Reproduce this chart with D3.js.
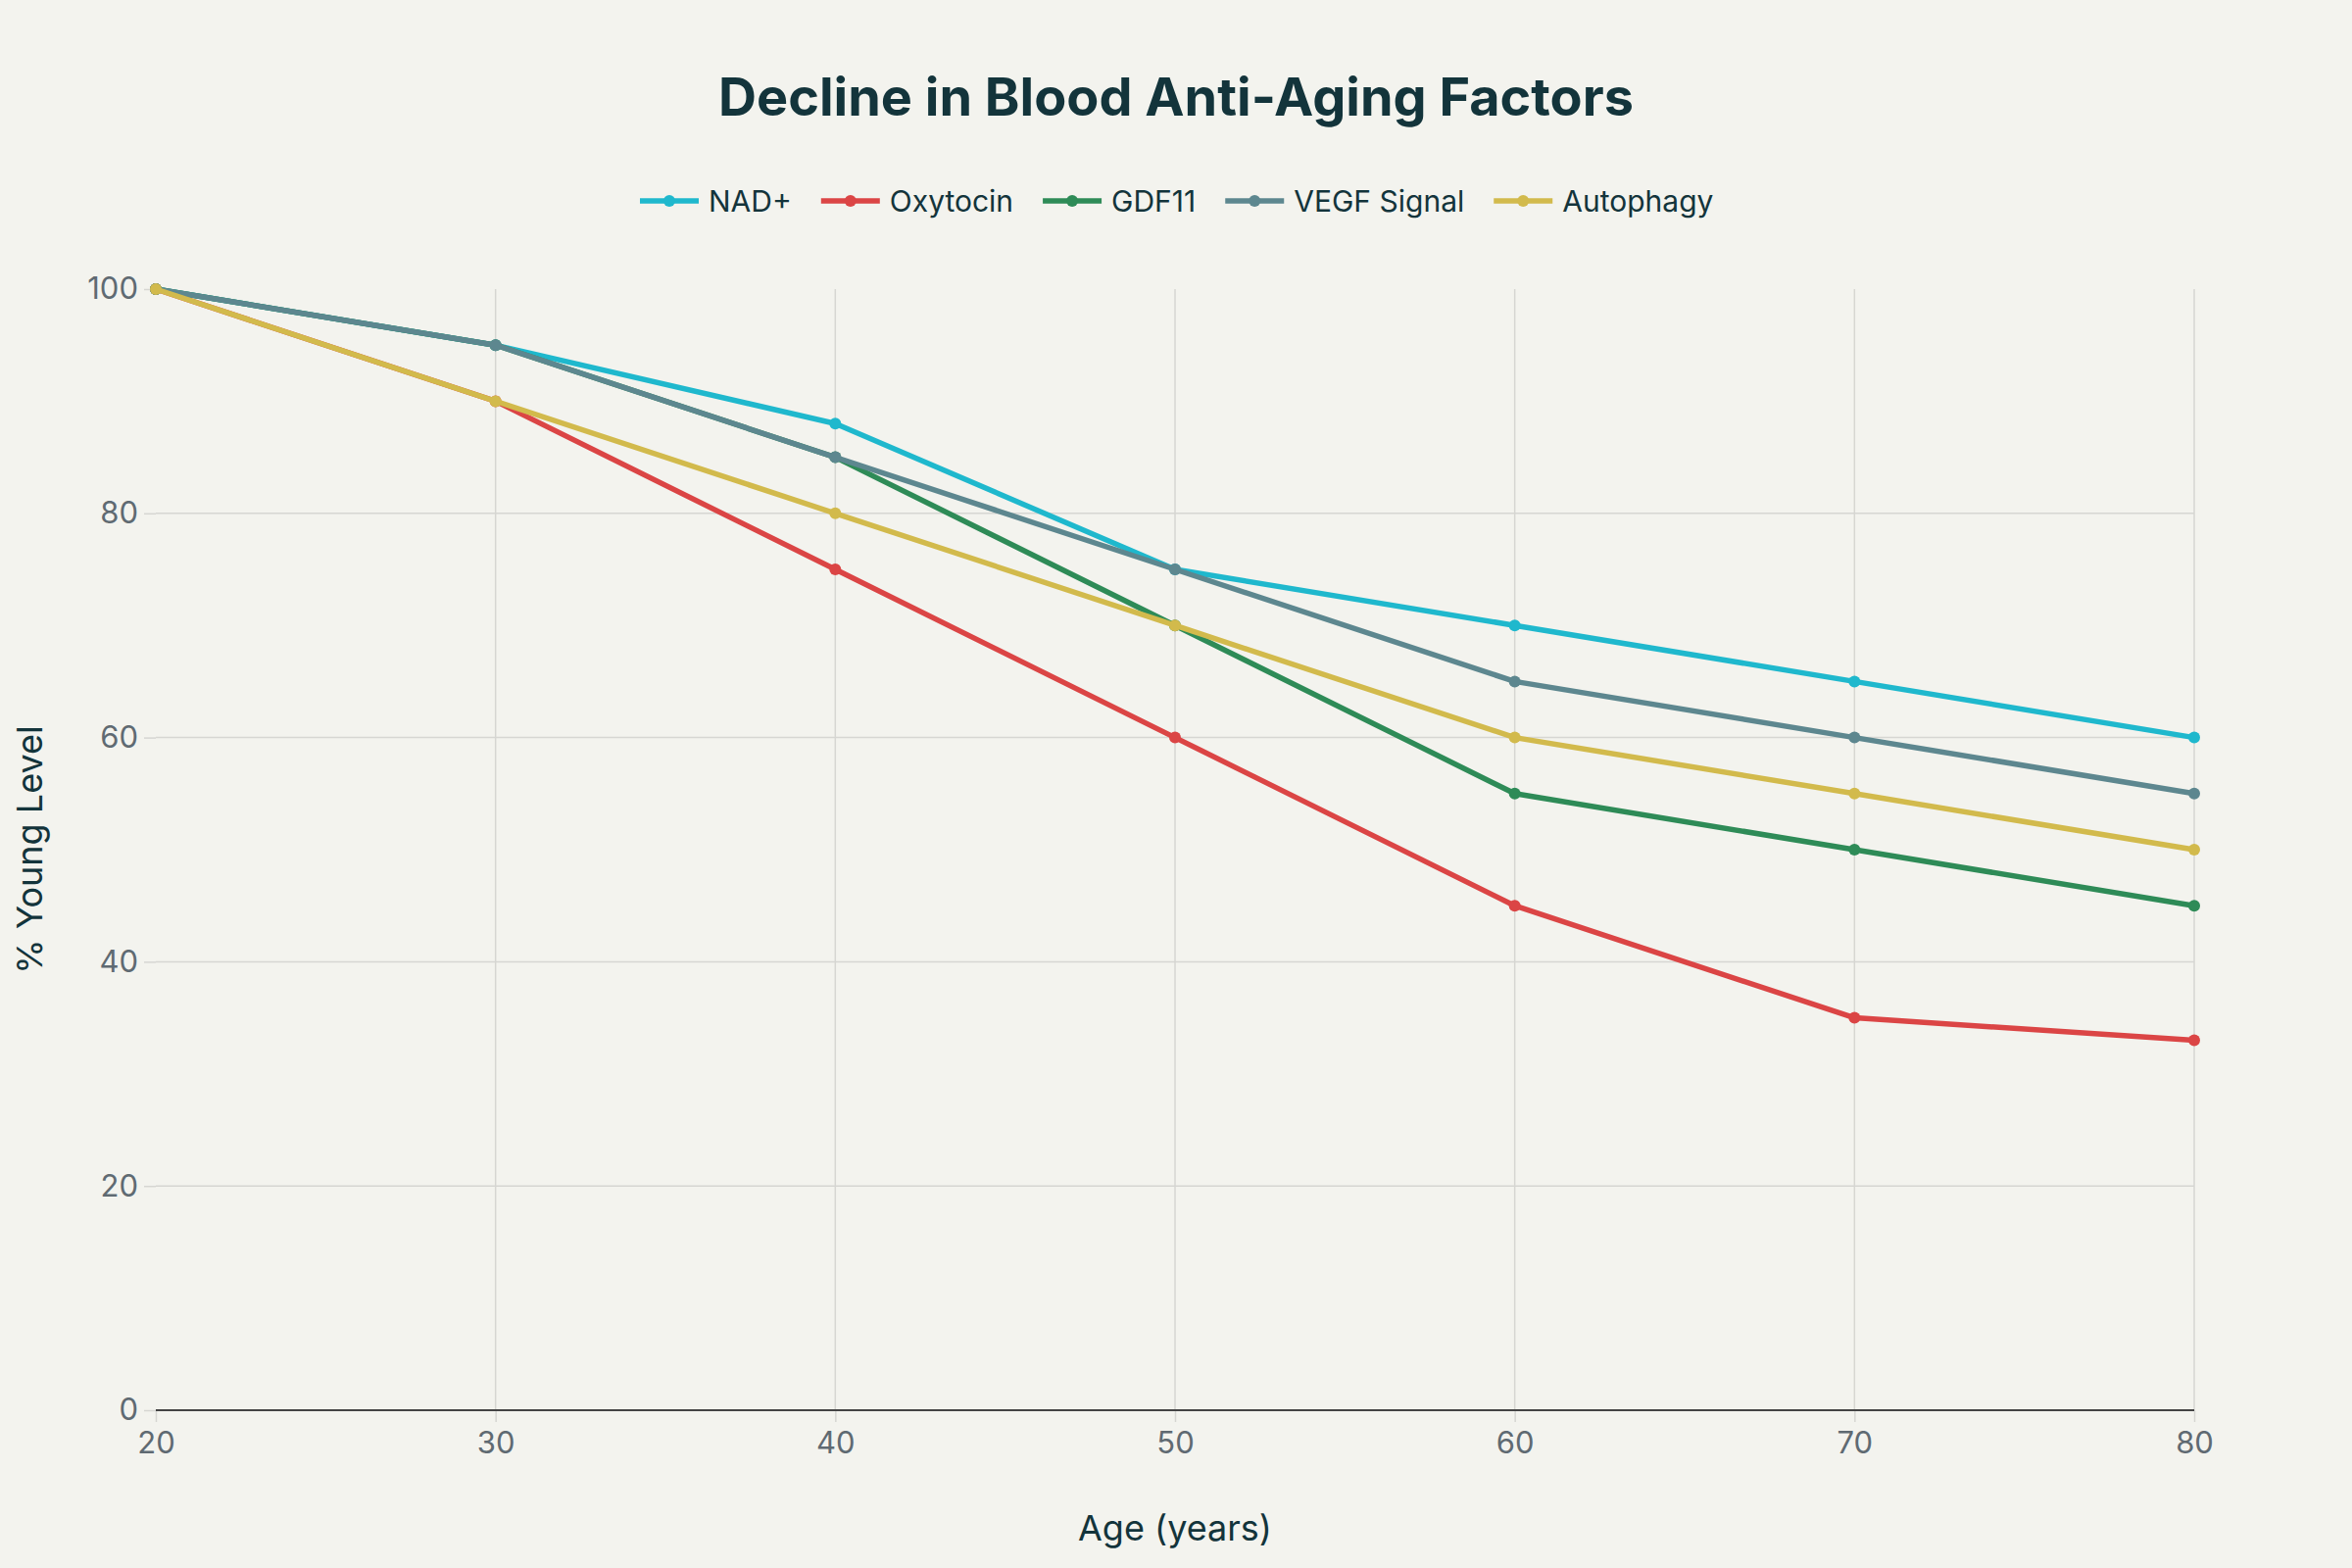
<!DOCTYPE html>
<html>
<head>
<meta charset="utf-8">
<script src="https://cdn.jsdelivr.net/npm/d3@7"></script>
<style>
  body { margin: 0; background: #F3F3EE; }
  svg { display: block; }
</style>
</head>
<body>
<div id="chart"></div>
<script>
// Data
var ages = [20, 30, 40, 50, 60, 70, 80];
var seriesNames = ["NAD+", "Oxytocin", "GDF11", "VEGF Signal", "Autophagy"];
var nad = [100, 95, 88, 75, 70, 65, 60];
var oxytocin = [100, 90, 75, 60, 45, 35, 33];
var gdf11 = [100, 95, 85, 70, 55, 50, 45];
var vegf = [100, 95, 85, 75, 65, 60, 55];
var autophagy = [100, 90, 80, 70, 60, 55, 50];
var xTicks = [20, 30, 40, 50, 60, 70, 80];
var yTicks = [0, 20, 40, 60, 80, 100];

var colors = ["#1FB8CD", "#DB4545", "#2E8B57", "#5D878F", "#D2BA4C"];
var allValues = [nad, oxytocin, gdf11, vegf, autophagy];

var W = 2400, H = 1600;
var margin = { top: 295, right: 161, bottom: 161, left: 159 };
var width = W - margin.left - margin.right,
    height = H - margin.top - margin.bottom;
var font = "Inter, 'Liberation Sans', Arial, sans-serif";
var textColor = "#13343B";

var svg = d3.select("#chart").append("svg")
    .attr("width", W)
    .attr("height", H)
    .style("background", "#F3F3EE");

var g = svg.append("g")
    .attr("transform", "translate(" + margin.left + "," + margin.top + ")");

var x = d3.scaleLinear().domain([20, 80]).range([0, width]);
var y = d3.scaleLinear().domain([0, 100]).range([height, 0]);

// grid
g.append("g").selectAll("line.vg")
    .data(xTicks.slice(1))
    .enter().append("line")
    .attr("x1", function(d) { return x(d); })
    .attr("x2", function(d) { return x(d); })
    .attr("y1", 0).attr("y2", height)
    .attr("stroke", "#D6D6D2").attr("stroke-width", 1.5);

g.append("g").selectAll("line.hg")
    .data(yTicks.filter(function(d) { return d > 0 && d < 100; }))
    .enter().append("line")
    .attr("x1", 0).attr("x2", width)
    .attr("y1", function(d) { return y(d); })
    .attr("y2", function(d) { return y(d); })
    .attr("stroke", "#D6D6D2").attr("stroke-width", 1.5);

// axes
var xAxis = d3.axisBottom(x).tickValues(xTicks).tickSize(12).tickPadding(10);
var yAxis = d3.axisLeft(y).tickValues(yTicks).tickSize(12).tickPadding(6);

var gx = g.append("g")
    .attr("transform", "translate(0," + height + ")")
    .call(xAxis);
var gy = g.append("g").call(yAxis);

[gx, gy].forEach(function(a) {
    a.select(".domain").remove();
    a.selectAll(".tick line").attr("stroke", "#D6D6D2").attr("stroke-width", 1.5);
    a.selectAll(".tick text")
        .attr("fill", "#5F6A72")
        .style("font-family", font)
        .style("font-size", "31px");
});

// zero line
g.append("line")
    .attr("x1", 0).attr("x2", width)
    .attr("y1", y(0)).attr("y2", y(0))
    .attr("stroke", "#444").attr("stroke-width", 2);

// lines
var line = d3.line()
    .x(function(d, i) { return x(ages[i]); })
    .y(function(d) { return y(d); });

allValues.forEach(function(vals, k) {
    g.append("path")
        .datum(vals)
        .attr("fill", "none")
        .attr("stroke", colors[k])
        .attr("stroke-width", 5.5)
        .attr("stroke-linejoin", "round")
        .attr("d", line);
    g.selectAll(".pt" + k)
        .data(vals)
        .enter().append("circle")
        .attr("cx", function(d, i) { return x(ages[i]); })
        .attr("cy", function(d) { return y(d); })
        .attr("r", 6)
        .attr("fill", colors[k]);
});

// title
svg.append("text")
    .attr("x", W / 2).attr("y", 118)
    .attr("text-anchor", "middle")
    .attr("fill", textColor)
    .style("font-family", font)
    .style("font-weight", "bold")
    .style("font-size", "54px")
    .text("Decline in Blood Anti-Aging Factors");

// axis titles
svg.append("text")
    .attr("x", margin.left + width / 2).attr("y", 1572)
    .attr("text-anchor", "middle")
    .attr("fill", textColor)
    .style("font-family", font)
    .style("font-size", "36px")
    .text("Age (years)");

svg.append("text")
    .attr("transform", "translate(43," + (margin.top + height / 2) + ") rotate(-90)")
    .attr("text-anchor", "middle")
    .attr("fill", textColor)
    .style("font-family", font)
    .style("font-size", "36px")
    .text("% Young Level");

// legend
var legend = svg.append("g").attr("transform", "translate(0,205)");
var lx = 653;
seriesNames.forEach(function(name, k) {
    var item = legend.append("g").attr("transform", "translate(" + lx + ",0)");
    item.append("line")
        .attr("x1", 0).attr("x2", 60)
        .attr("stroke", colors[k]).attr("stroke-width", 5.5);
    item.append("circle").attr("cx", 30).attr("r", 6).attr("fill", colors[k]);
    var t = item.append("text")
        .attr("x", 70).attr("dy", "0.35em")
        .attr("fill", textColor)
        .style("font-family", font)
        .style("font-size", "30px")
        .text(name);
    lx += 70 + t.node().getComputedTextLength() + 30;
});
</script>
</body>
</html>
